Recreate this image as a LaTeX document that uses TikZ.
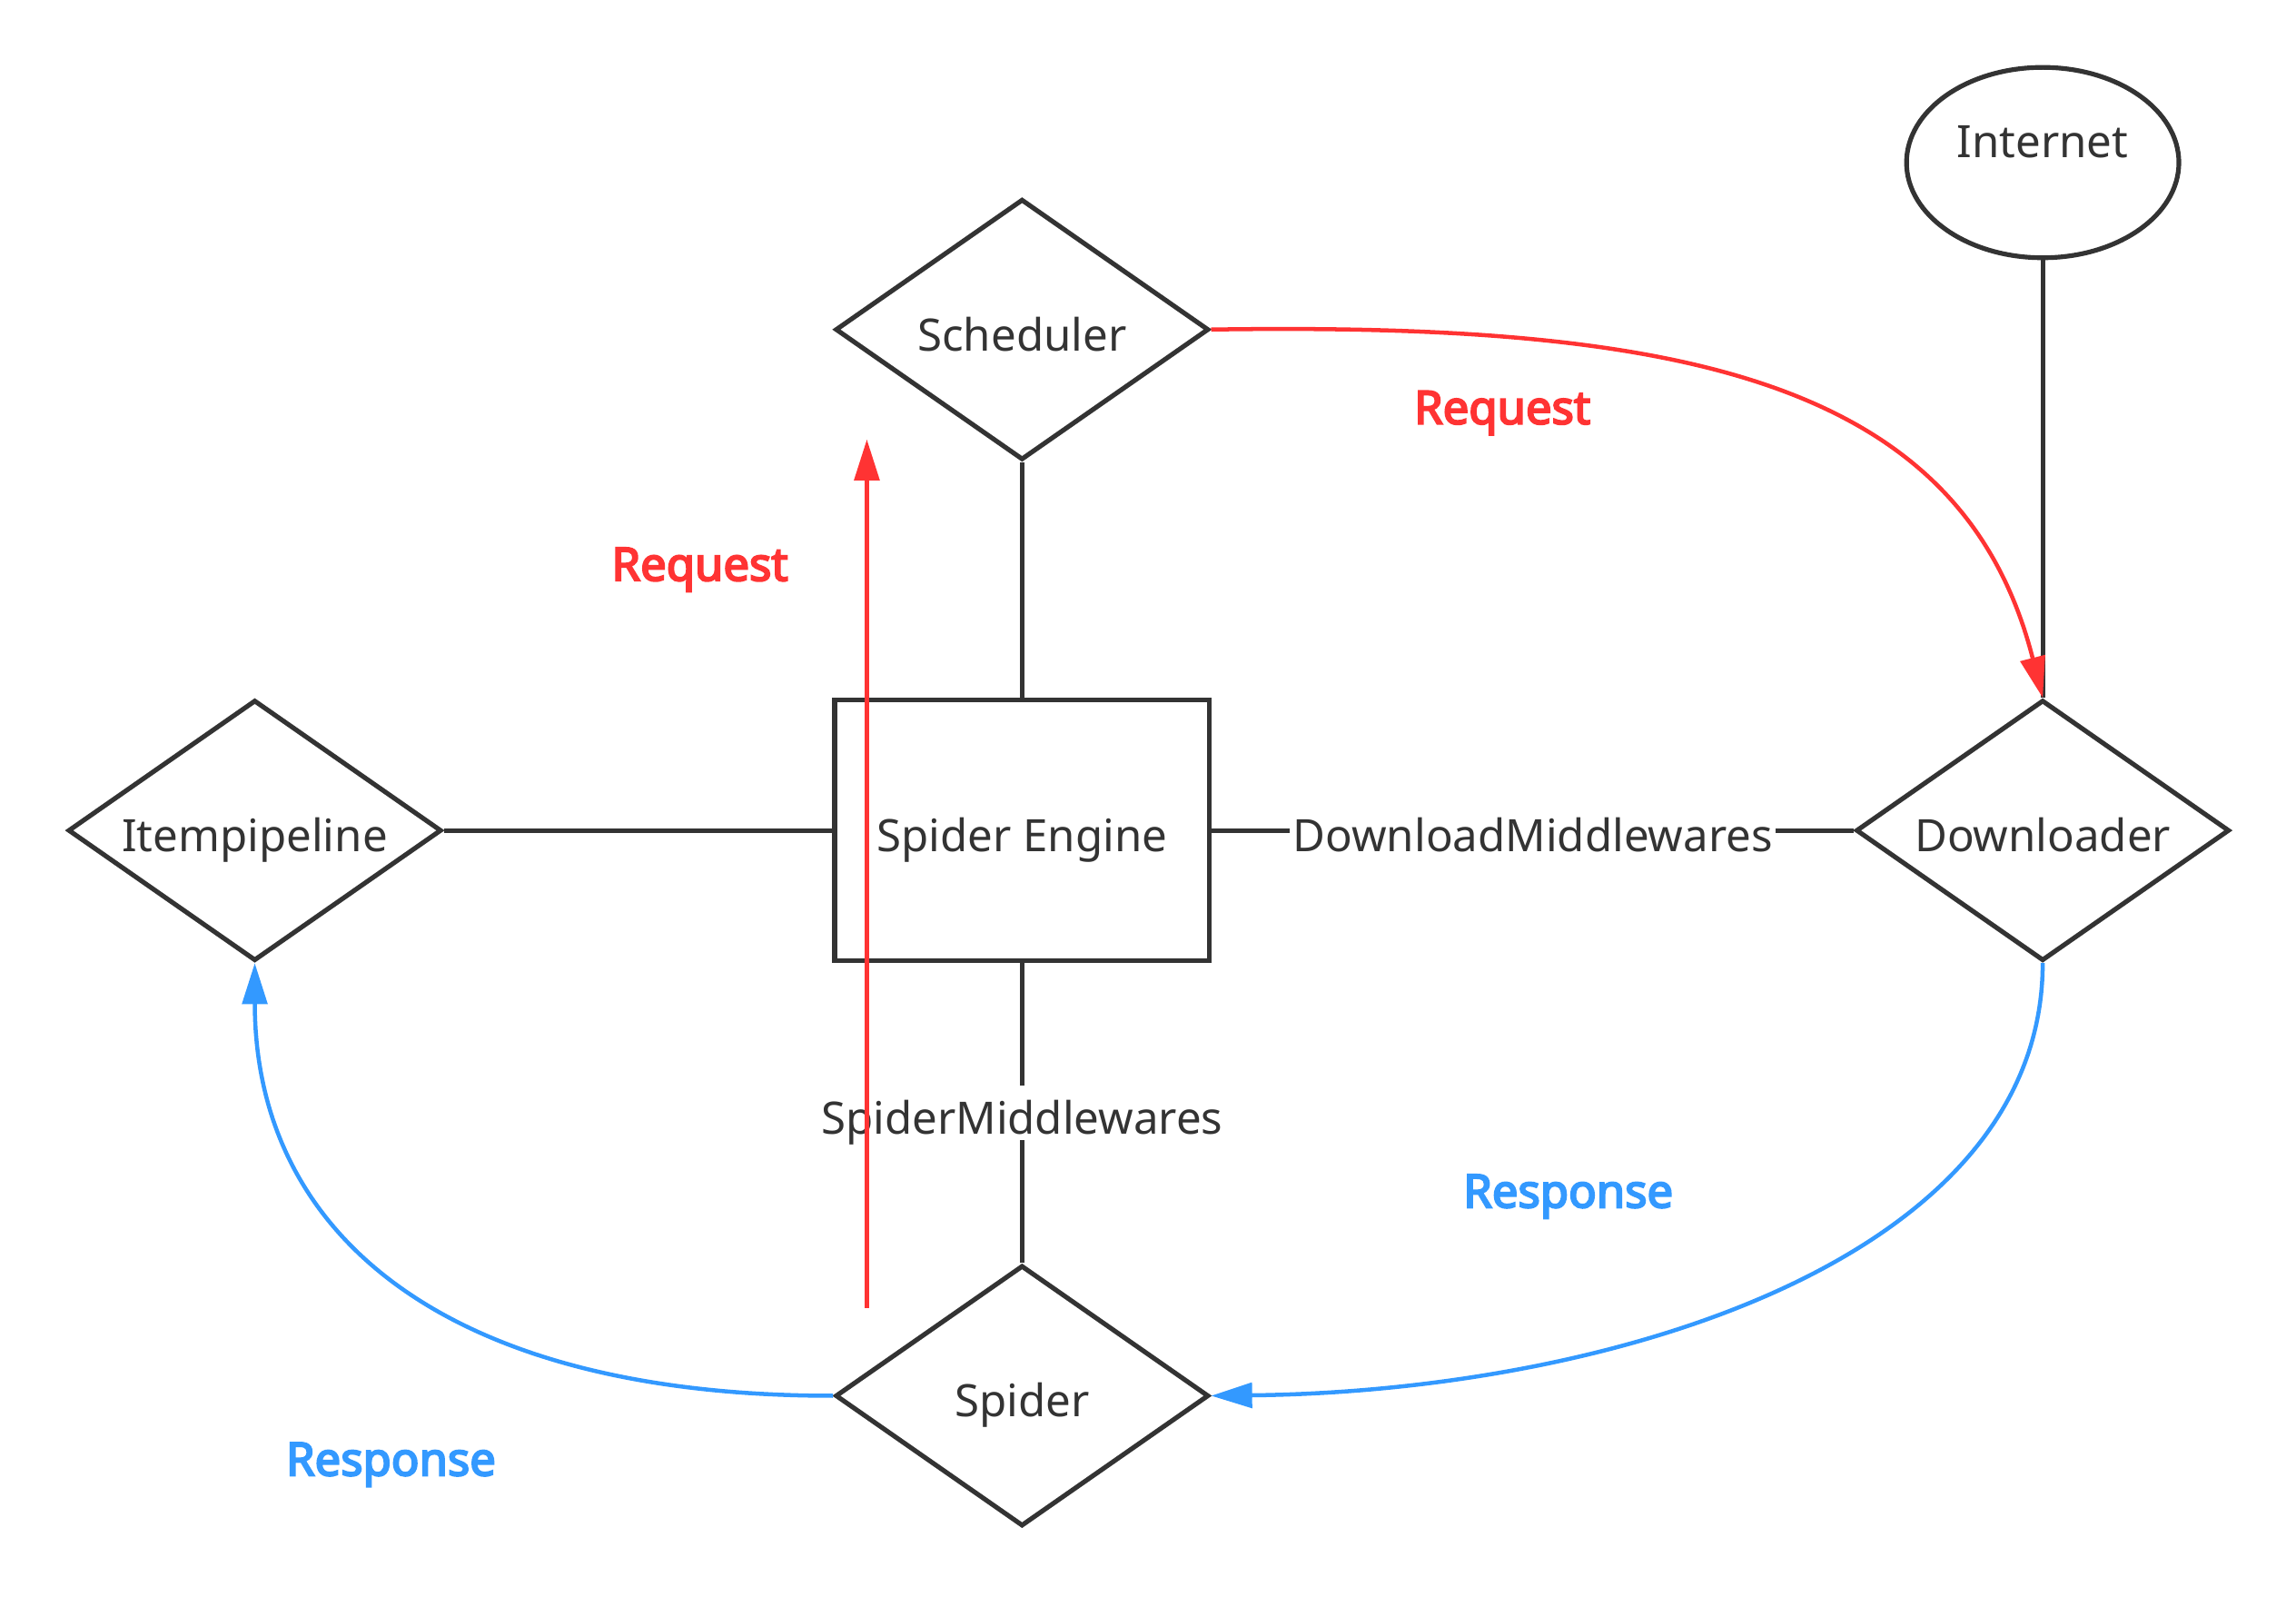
\documentclass[tikz,border=0pt]{standalone}
\usepackage{fontspec}
\setmainfont{Noto Sans}[AutoFakeBold=4]
\usetikzlibrary{shapes.geometric,arrows.meta}
\definecolor{ink}{HTML}{333333}
\definecolor{reqred}{HTML}{FF3333}
\definecolor{respblue}{HTML}{3399FF}
\tikzset{
	txt/.style={text=ink, font=\fontsize{30.5}{36}\selectfont, text height=31pt, text depth=2pt},
	part/.style={txt, diamond, aspect=1.43, draw=ink, line width=3.2pt, inner sep=0pt, minimum width=255pt, minimum height=178pt},
	core/.style={txt, rectangle, draw=ink, line width=3.2pt, inner sep=0pt, minimum width=256pt, minimum height=178pt},
	cloud/.style={txt, ellipse, draw=ink, line width=3.2pt, inner sep=0pt, minimum width=186pt, minimum height=130pt},
	link/.style={draw=ink, line width=3.2pt},
	midlabel/.style={txt, fill=white, inner sep=2pt},
	reqflow/.style={draw=reqred, line width=2.8pt, -{Triangle[length=28pt,width=17pt]}},
	respflow/.style={draw=respblue, line width=2.8pt, -{Triangle[length=28pt,width=17pt]}},
	reqlabel/.style={text=reqred, font=\fontsize{31.5}{36}\selectfont\bfseries},
	resplabel/.style={text=respblue, font=\fontsize{31.5}{36}\selectfont\bfseries}
}
\begin{document}
\begin{tikzpicture}[x=1pt,y=-1pt]
		\useasboundingbox (0,0) rectangle (1568,1090);
		% components
		\node[part] (scheduler) at (698,225) {Scheduler};
		\node[cloud, text height=3pt, text depth=10pt] (internet) at (1395,111) {Internet};
		\node[core] (engine) at (698,567) {Spider Engine};
		\node[part] (pipeline) at (174,567) {Itempipeline};
		\node[part] (downloader) at (1395,567) {Downloader};
		\node[part] (spider) at (698,953) {Spider};
		% plain links
		\draw[link] (scheduler.south) -- (engine.north);
		\draw[link] (internet.south) -- (downloader.north);
		\draw[link] (pipeline.east) -- (engine.west);
		\draw[link] (engine.east) -- node[midlabel] (dlmw) {DownloadMiddlewares} (downloader.west);
		\draw[link] (engine.south) -- node[midlabel] (spmw) {SpiderMiddlewares} (spider.north);
		% request flow
		\coordinate (reqtail) at (592,893);
		\coordinate (reqhead) at (592,300);
		\draw[reqflow] (reqtail) -- (reqhead);
		\draw[reqflow] (scheduler.east) .. controls (1150,220) and (1340,260) .. (downloader.north);
		\node[reqlabel] (req1) at (478,389) {Request};
		\node[reqlabel] (req2) at (1026,282) {Request};
		% response flow
		\draw[respflow] (downloader.south) .. controls (1395,860) and (1100,950) .. (spider.east);
		\draw[respflow] (spider.west) .. controls (300,953) and (174,840) .. (pipeline.south);
		\node[resplabel] (resp1) at (1071,817) {Response};
		\node[resplabel] (resp2) at (267,1000) {Response};
	\end{tikzpicture}
\end{document}
